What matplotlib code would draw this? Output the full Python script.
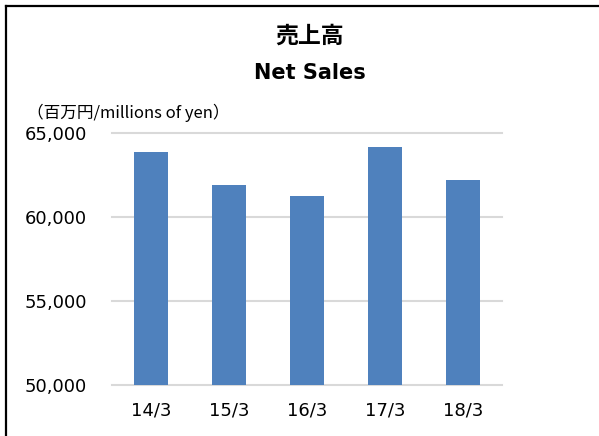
import numpy as np
import matplotlib.pyplot as plt
from matplotlib.lines import Line2D
from matplotlib.ticker import FuncFormatter

# data
periods = ['14/3', '15/3', '16/3', '17/3', '18/3']
net_sales = [63890, 61900, 61260, 64170, 62220]
yticks = [50000, 55000, 60000, 65000]

plt.rcParams['font.family'] = ['DejaVu Sans', 'Noto Sans CJK JP']

fig = plt.figure(figsize=(5.99, 4.36), dpi=100)
ax = fig.add_axes([112/599, 1 - 385/436, 390/599, (385 - 133.3)/436])

x = np.arange(len(periods))
ax.bar(x, net_sales, width=0.435, color='#4f81bd', zorder=3)

ax.set_xlim(-0.5, len(periods) - 0.5)
ax.set_ylim(50000, 65000)
ax.set_yticks(yticks)
ax.yaxis.set_major_formatter(FuncFormatter(lambda v, p: '{:,.0f}'.format(v)))
ax.set_xticks(x)
ax.set_xticklabels(periods)

ax.grid(axis='y', color='#d9d9d9', linewidth=1.5, zorder=0)
for gl in ax.get_ygridlines():
    gl.set_clip_on(False)
for s in ax.spines.values():
    s.set_visible(False)
ax.tick_params(axis='both', length=0, labelsize=13, colors='black')
ax.tick_params(axis='y', pad=18)
ax.tick_params(axis='x', pad=12)

# titles and unit label
fig.text(310/599, 1 - 36/436, '売上高', ha='center', va='center',
         fontsize=16.5, fontweight='bold', family='Noto Sans CJK JP')
fig.text(310/599, 1 - 73/436, 'Net Sales', ha='center', va='center',
         fontsize=15, fontweight='bold')
fig.text(27/599, 1 - 113/436, '（百万円/millions of yen）', ha='left', va='center',
         fontsize=12, family='Noto Sans CJK JP')

# border of the chart box (top and left edges only are visible)
fig.add_artist(Line2D([5.5/599, 1], [1 - 6/436, 1 - 6/436], color='black', linewidth=1.6))
fig.add_artist(Line2D([5.5/599, 5.5/599], [0, 1 - 6/436], color='black', linewidth=1.6))

fig.savefig('out.png', dpi=100)
